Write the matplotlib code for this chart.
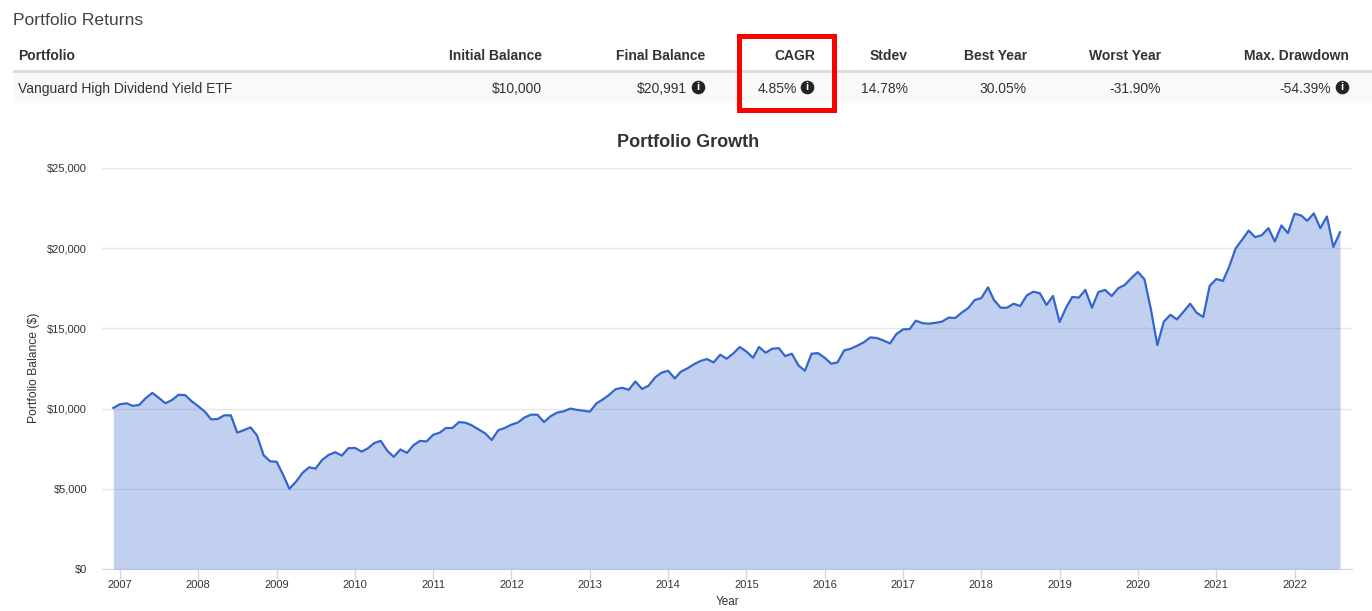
import pandas as pd
import matplotlib.pyplot as plt
import matplotlib.dates as mdates
from matplotlib.patches import Rectangle

plt.rcParams['font.family'] = ['Liberation Sans', 'DejaVu Sans']

W, H = 1372, 611

# monthly balance, Dec 2006 .. Aug 2022
balance = [
    10040, 10270, 10330, 10170, 10230, 10650, 10980, 10670, 10330, 10540, 10860, 10840,
    10460, 10150, 9810, 9330, 9350, 9580, 9580, 8500, 8660, 8830, 8330, 7090,
    6720, 6680, 5840, 5000, 5440, 5990, 6340, 6260, 6800, 7120, 7280, 7070,
    7530, 7550, 7320, 7510, 7850, 7990, 7370, 6990, 7450, 7240, 7720, 7990,
    7950, 8370, 8500, 8790, 8790, 9160, 9120, 8950, 8700, 8450, 8040, 8660,
    8790, 9000, 9140, 9440, 9620, 9620, 9160, 9520, 9750, 9830, 10000, 9920,
    9870, 9810, 10330, 10560, 10860, 11210, 11300, 11170, 11690, 11230, 11420, 11940,
    12240, 12360, 11880, 12300, 12510, 12760, 12970, 13090, 12880, 13360, 13110, 13440,
    13840, 13560, 13170, 13840, 13480, 13730, 13770, 13270, 13420, 12690, 12360, 13420,
    13460, 13170, 12800, 12880, 13630, 13730, 13920, 14130, 14440, 14400, 14250, 14060,
    14650, 14940, 14960, 15480, 15330, 15290, 15350, 15420, 15670, 15650, 15980, 16270,
    16770, 16890, 17560, 16770, 16290, 16290, 16540, 16390, 17060, 17290, 17190, 16460,
    17020, 15400, 16310, 16960, 16920, 17400, 16290, 17270, 17400, 17020, 17500, 17710,
    18130, 18520, 18060, 16250, 13960, 15420, 15850, 15560, 16040, 16540, 15980, 15710,
    17650, 18080, 17960, 18810, 19980, 20520, 21100, 20690, 20810, 21250, 20420, 21420,
    20940, 22150, 22040, 21710, 22170, 21250, 21980, 20080, 20991,
]
dates = pd.date_range('2006-12-01', periods=len(balance), freq='MS')

y_ticks = [0, 5000, 10000, 15000, 20000, 25000]
year_ticks = list(range(2007, 2023))

table_headers = ['Initial Balance', 'Final Balance', 'CAGR', 'Stdev', 'Best Year', 'Worst Year', 'Max. Drawdown']
table_values = ['$10,000', '$20,991', '4.85%', '14.78%', '30.05%', '-31.90%', '-54.39%']
header_right = [542, 705, 815, 908, 1027, 1161, 1349]
value_right = [542, 687, 797, 908, 1027, 1161, 1331]
icon_x = [698, 807, 1342]

fig = plt.figure(figsize=(W / 100, H / 100), dpi=100)
fig.patch.set_facecolor('white')

# chart area in pixel coordinates
left, right, top, bottom = 102, 1352, 168, 569
ax = fig.add_axes([left / W, 1 - bottom / H, (right - left) / W, (bottom - top) / H])

px_days = 365.25 / 78.3
x0 = mdates.date2num(pd.Timestamp('2007-01-01'))
ax.set_xlim(x0 - (120 - left) * px_days, x0 + (right - 120) * px_days)
ax.set_ylim(0, 25000)

ax.fill_between(dates, balance, 0, color='#3366cc', alpha=0.3, linewidth=0, zorder=3)
ax.plot(dates, balance, color='#3366cc', linewidth=1.6, zorder=4)

ax.set_yticks(y_ticks)
ax.set_yticklabels(['${:,}'.format(v) for v in y_ticks])
ax.set_xticks([mdates.date2num(pd.Timestamp(f'{y}-01-01')) for y in year_ticks])
ax.set_xticklabels([str(y) for y in year_ticks])
ax.grid(axis='y', color='#e6e6e6', linewidth=1, zorder=1)
ax.set_axisbelow(True)
for s in ['top', 'left', 'right']:
    ax.spines[s].set_visible(False)
ax.spines['bottom'].set_color('#ccd6eb')
ax.tick_params(axis='y', length=0, pad=10.8, labelsize=8, labelcolor='#333333')
ax.tick_params(axis='x', length=7.2, width=1, color='#ccd6eb', pad=1, labelsize=8, labelcolor='#333333')

# overlay for the table and other page text
ov = fig.add_axes([0, 0, 1, 1], facecolor='none')
ov.set_xlim(0, W)
ov.set_ylim(H, 0)
ov.axis('off')

ov.text(13, 25, 'Portfolio Returns', fontsize=12.6, color='#444444', va='baseline')
ov.add_patch(Rectangle((13, 70), W - 13, 3, facecolor='#dddddd', edgecolor='none'))
ov.add_patch(Rectangle((13, 73), W - 13, 30, facecolor='#f9f9f9', edgecolor='none'))

ov.text(18, 60, 'Portfolio', fontsize=10, fontweight='bold', color='#333333', va='baseline')
ov.text(18, 93, 'Vanguard High Dividend Yield ETF', fontsize=10, color='#333333', va='baseline')
for name, xr in zip(table_headers, header_right):
    ov.text(xr, 60, name, fontsize=10, fontweight='bold', color='#333333', va='baseline', ha='right')
for val, xr in zip(table_values, value_right):
    ov.text(xr, 93, val, fontsize=10, color='#333333', va='baseline', ha='right')

# info icons
for x in icon_x:
    ov.plot([x], [87], marker='o', markersize=9.8, color='#222222', markeredgewidth=0)
    ov.text(x, 87, 'i', fontsize=8, fontweight='bold', color='white', ha='center', va='center')

# red highlight around CAGR
ov.add_patch(Rectangle((739.2, 35.8), 95, 74.4, facecolor='none', edgecolor='#ff0000', linewidth=3.6))

ov.text(688, 147, 'Portfolio Growth', fontsize=13, fontweight='bold', color='#333333', ha='center', va='baseline')
ov.text(33.5, 368, 'Portfolio Balance ($)', fontsize=8.7, color='#333333', rotation=90, ha='center', va='center')
ov.text(728, 602, 'Year', fontsize=8.5, color='#333333', ha='center', va='center')

fig.savefig('out.png', dpi=100)
